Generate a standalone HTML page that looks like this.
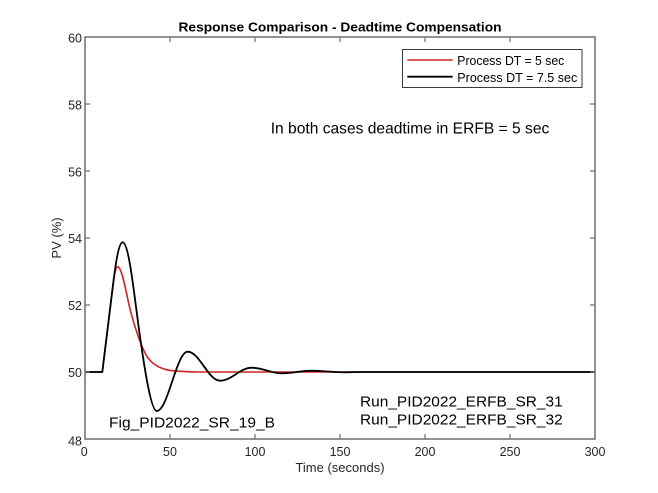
<!DOCTYPE html>
<html>
<head>
<meta charset="utf-8">
<style>
  html, body { margin: 0; padding: 0; background: #ffffff; }
  svg { display: block; }
  text { font-family: "Liberation Sans", "DejaVu Sans", sans-serif; fill: #262626; }
</style>
</head>
<body>
<svg width="658" height="493" viewBox="0 0 658 493" xmlns="http://www.w3.org/2000/svg">
  <rect x="0" y="0" width="658" height="493" fill="#ffffff"/>

  <!-- Title -->
  <text x="340" y="31.5" text-anchor="middle" font-size="13" font-weight="bold" textLength="323" lengthAdjust="spacingAndGlyphs" style="fill:#000">Response Comparison - Deadtime Compensation</text>

  <!-- Curves (red first, black on top) -->
  <path d="M85,372 L102.3,372 L112.5,289 C114.5,272.5 116,266.7 117.7,266.7 C121,266.7 124.5,283 128.3,301.7 C133.3,324.2 142.3,350.5 148.3,358.3 C154.3,366 163,370 173.3,370.8 C183,371.6 190,372 200,372 L595,372"
        fill="none" stroke="#d22424" stroke-width="1.6" stroke-linejoin="round"/>
  <path d="M85,372 L102.3,372 L113,285 C116.5,256 119.5,242.3 122.7,242.3 C128.7,242.3 133.6,290 138.6,326.5 C143.6,363 150.7,411 156.7,411 C168,411 176.4,351.7 187.7,351.7 C199.5,351.7 208.2,380.7 220,380.7 C231.5,380.7 240.2,367.7 251.7,367.7 C262.7,367.7 270.7,373.3 281.7,373.3 C292.7,373.3 300.7,370.7 311.7,370.7 C323,370.7 333,372.3 345,372.3 L360,372 L595,372"
        fill="none" stroke="#000000" stroke-width="1.8" stroke-linejoin="round"/>

  <!-- Axes box -->
  <rect x="85" y="37" width="510" height="402" fill="none" stroke="#6e6e6e" stroke-width="1.5"/>

  <!-- X ticks (bottom & top) -->
  <g stroke="#6e6e6e" stroke-width="1.2">
    <line x1="170" y1="439" x2="170" y2="434"/><line x1="170" y1="37" x2="170" y2="42"/>
    <line x1="255" y1="439" x2="255" y2="434"/><line x1="255" y1="37" x2="255" y2="42"/>
    <line x1="340" y1="439" x2="340" y2="434"/><line x1="340" y1="37" x2="340" y2="42"/>
    <line x1="425" y1="439" x2="425" y2="434"/><line x1="425" y1="37" x2="425" y2="42"/>
    <line x1="510" y1="439" x2="510" y2="434"/><line x1="510" y1="37" x2="510" y2="42"/>
    <!-- Y ticks (left & right) -->
    <line x1="85" y1="104" x2="90" y2="104"/><line x1="595" y1="104" x2="590" y2="104"/>
    <line x1="85" y1="171" x2="90" y2="171"/><line x1="595" y1="171" x2="590" y2="171"/>
    <line x1="85" y1="238" x2="90" y2="238"/><line x1="595" y1="238" x2="590" y2="238"/>
    <line x1="85" y1="305" x2="90" y2="305"/><line x1="595" y1="305" x2="590" y2="305"/>
    <line x1="85" y1="372" x2="90" y2="372"/><line x1="595" y1="372" x2="590" y2="372"/>
  </g>

  <!-- Y tick labels -->
  <g font-size="12.5" text-anchor="end">
    <text x="82" y="42.5">60</text>
    <text x="82" y="109.5">58</text>
    <text x="82" y="176.5">56</text>
    <text x="82" y="243">54</text>
    <text x="82" y="310">52</text>
    <text x="82" y="377">50</text>
    <text x="82" y="445.5">48</text>
  </g>

  <!-- X tick labels -->
  <g font-size="12.5" text-anchor="middle">
    <text x="84.2" y="456">0</text>
    <text x="170" y="456">50</text>
    <text x="255" y="456">100</text>
    <text x="340" y="456">150</text>
    <text x="425" y="456">200</text>
    <text x="510" y="456">250</text>
    <text x="595" y="456">300</text>
  </g>

  <!-- Axis labels -->
  <text x="340" y="472" text-anchor="middle" font-size="13">Time (seconds)</text>
  <text transform="translate(61,238) rotate(-90)" text-anchor="middle" font-size="13">PV (%)</text>

  <!-- Legend -->
  <rect x="402.5" y="49.5" width="179.5" height="38" fill="#ffffff" stroke="#3a3a3a" stroke-width="1"/>
  <line x1="407.3" y1="60" x2="452.7" y2="60" stroke="#d22424" stroke-width="1.6"/>
  <line x1="407.3" y1="76.7" x2="452.7" y2="76.7" stroke="#000" stroke-width="1.8"/>
  <text x="457.3" y="65" font-size="12.5" textLength="107" lengthAdjust="spacingAndGlyphs" style="fill:#000">Process DT = 5 sec</text>
  <text x="457.3" y="82" font-size="12.5" textLength="120" lengthAdjust="spacingAndGlyphs" style="fill:#000">Process DT = 7.5 sec</text>

  <!-- Annotations -->
  <text x="270.7" y="133.3" font-size="16" textLength="278.6" lengthAdjust="spacingAndGlyphs" style="fill:#000">In both cases deadtime in ERFB = 5 sec</text>
  <text x="109" y="427.5" font-size="15" textLength="166" lengthAdjust="spacingAndGlyphs" style="fill:#000">Fig_PID2022_SR_19_B</text>
  <text x="360" y="406.5" font-size="15" textLength="202.7" lengthAdjust="spacingAndGlyphs" style="fill:#000">Run_PID2022_ERFB_SR_31</text>
  <text x="360" y="424.5" font-size="15" textLength="202.7" lengthAdjust="spacingAndGlyphs" style="fill:#000">Run_PID2022_ERFB_SR_32</text>
</svg>
</body>
</html>
